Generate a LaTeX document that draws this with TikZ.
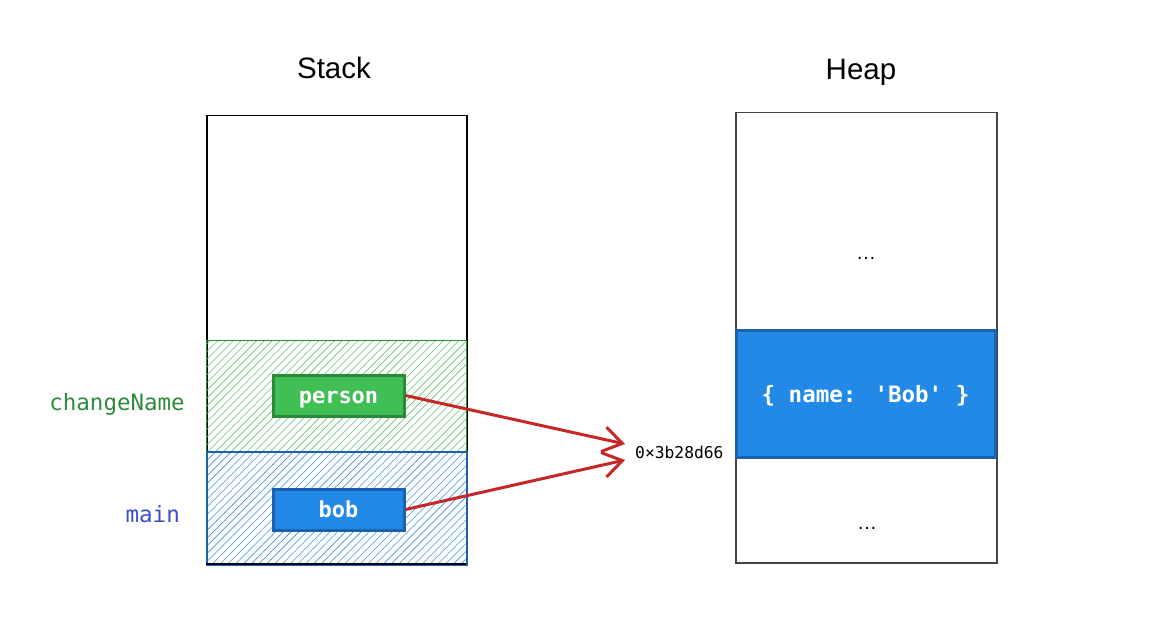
\documentclass[tikz,border=0pt]{standalone}
\usepackage{fontspec}
\setmainfont{Liberation Sans}
\newfontfamily\codefont{DejaVu Sans Mono}
\usetikzlibrary{patterns.meta,arrows.meta}
\definecolor{gfill}{HTML}{40BF55}
\definecolor{gdraw}{HTML}{2A8A3A}
\definecolor{ghatch}{HTML}{5CC46C}
\definecolor{bfill}{HTML}{2289E6}
\definecolor{bdraw}{HTML}{1A62AD}
\definecolor{bhatch}{HTML}{3A8EE6}
\definecolor{glabel}{HTML}{2E8B3E}
\definecolor{blabel}{HTML}{3A4FCC}
\definecolor{arrowred}{HTML}{C62828}
\definecolor{framegray}{HTML}{444444}
\tikzset{
  heading/.style={font=\fontsize{29.5}{32}\selectfont, text=black},
  frame/.style={draw=black, line width=1.5pt, minimum width=260pt, inner sep=0pt},
  region/.style={line width=1.5pt, minimum width=260pt, inner sep=0pt},
  varbox/.style={line width=3pt, minimum width=131pt, minimum height=41pt, inner sep=0pt,
     text height=15pt, text depth=0pt,
     text=white, font=\codefont\bfseries\fontsize{22}{24}\selectfont},
  framelabel/.style={font=\codefont\fontsize{22.5}{24}\selectfont, inner sep=0pt},
  ref/.style={draw=arrowred, line width=3pt, -{Straight Barb[length=19pt,width=25pt,line width=3pt]}},
  dots/.style={font=\fontsize{20}{22}\selectfont}
}
\begin{document}
\begin{tikzpicture}[x=1pt,y=-1pt]
\useasboundingbox (0,0) rectangle (1151,644);
% Stack
\node[heading] (stacktitle) at (334,68) {Stack};
\node[frame, minimum height=449pt, anchor=north west] (stack) at (206,115) {};
\node[region, draw=gdraw, minimum height=111pt, anchor=north west,
  pattern={Lines[angle=45,distance=5.5pt,line width=0.6pt]}, pattern color=ghatch] (frameCN) at (206,340) {};
\node[region, draw=bdraw, minimum height=113pt, anchor=north west,
  pattern={Lines[angle=45,distance=5.5pt,line width=0.6pt]}, pattern color=bhatch] (frameMain) at (206,451) {};
\draw[black, line width=1.5pt] (206,564) -- (466,564);
\node[varbox, draw=gdraw, fill=gfill] (person) at (338.5,395.5) {person};
\node[varbox, draw=bdraw, fill=bfill] (bob) at (338.5,509.5) {bob};
\node[framelabel, text=glabel, anchor=east] (lblCN) at (185,404) {changeName};
\node[framelabel, text=blabel, anchor=east] (lblMain) at (180,514) {main};
% Heap
\node[heading] (heaptitle) at (861,72) {Heap};
\node[draw=framegray, line width=1.5pt, minimum width=261pt, minimum height=450pt, inner sep=0pt, anchor=north west] (heap) at (735,112) {};
\node[draw=bdraw, fill=bfill, line width=3pt, minimum width=259pt, minimum height=127pt, inner sep=0pt,
  text height=16pt, text depth=0pt,
  text=white, font=\codefont\bfseries\fontsize{22.5}{24}\selectfont] (obj) at (865.5,394) {\{ name: 'Bob' \}};
\node[dots] (dotsTop) at (866,258) {\dots};
\node[dots] (dotsBot) at (867,528) {\dots};
% Address
\node[font=\codefont\fontsize{16.3}{18}\selectfont, anchor=west, inner sep=0pt] (addr) at (635,452) {0×3b28d66};
\coordinate (tipA) at (625,444);
\coordinate (tipB) at (625,460);
\draw[ref] (person.east) -- (tipA);
\draw[ref] (bob.east) -- (tipB);
\end{tikzpicture}
\end{document}
